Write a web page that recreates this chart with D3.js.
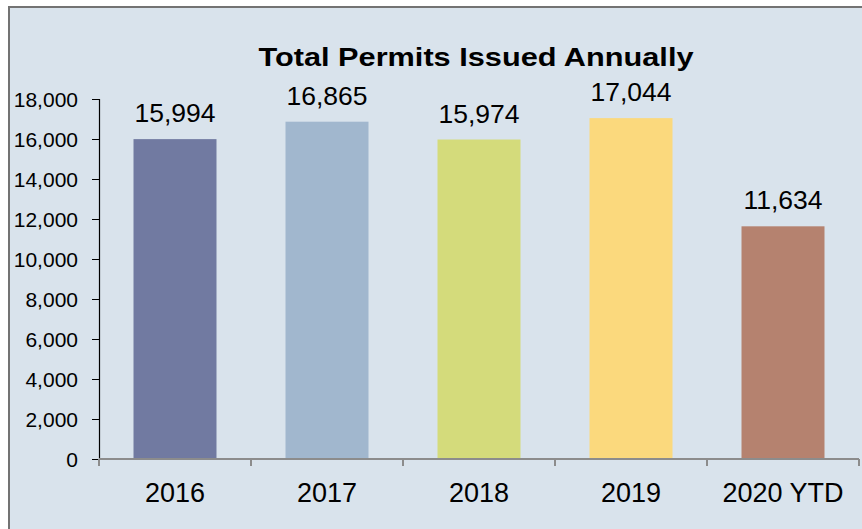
<!DOCTYPE html>
<html lang="en">
  <head>
    <meta charset="utf-8">
    <title>Total Permits Issued Annually</title>
    <script src="https://cdn.jsdelivr.net/npm/d3@7"></script>
  </head>
  <style>
    body { margin: 0; background: #ffffff; }
    .y-axis text { font-family: 'Liberation Sans', Arial, sans-serif; font-size: 21px; fill: #000; }
    .x-axis text { font-family: 'Liberation Sans', Arial, sans-serif; font-size: 27px; fill: #000; }
  </style>
  <body>
    <div id="svg-area"></div>
    <script>
      const svg_width = 862;
      const svg_height = 529;

      const categories = ['2016', '2017', '2018', '2019', '2020 YTD'];
      const permits = [15994, 16865, 15974, 17044, 11634];
      const bar_colors = ['#717aa1', '#a1b7ce', '#d4db7b', '#fbd97d', '#b5826f'];
      const y_ticks = [0, 2000, 4000, 6000, 8000, 10000, 12000, 14000, 16000, 18000];

      const plot = {left: 99, right: 859, top: 99, bottom: 459};

      const svg = d3.select('#svg-area')
        .append('svg')
        .attr('width', svg_width)
        .attr('height', svg_height);

      //chart area background + frame
      svg.append('rect')
        .attr('x', 9)
        .attr('y', 7)
        .attr('width', svg_width + 10)
        .attr('height', svg_height + 10)
        .attr('fill', '#d9e3ec')
        .attr('stroke', '#737373')
        .attr('stroke-width', 2);

      //scales
      const x_scale = d3.scaleBand()
        .domain(categories)
        .range([plot.left, plot.right])
        .paddingInner(0.454)
        .paddingOuter(0.227);

      const x_ticks_scale = d3.scaleBand()
        .domain(categories)
        .range([plot.left, plot.right]);

      const y_scale = d3.scaleLinear()
        .domain([0, 18000])
        .range([plot.bottom, plot.top]);

      //title
      svg.append('text')
        .attr('x', 476)
        .attr('y', 66)
        .attr('text-anchor', 'middle')
        .attr('font-family', "'Liberation Sans', Arial, sans-serif")
        .attr('font-weight', 'bold')
        .attr('font-size', 26)
        .attr('textLength', 435)
        .attr('lengthAdjust', 'spacingAndGlyphs')
        .text('Total Permits Issued Annually');

      //bars
      svg.selectAll('rect.bar')
        .data(permits)
        .enter()
        .append('rect')
        .attr('class', 'bar')
        .attr('x', (d, i) => x_scale(categories[i]))
        .attr('y', (d) => y_scale(d))
        .attr('width', x_scale.bandwidth())
        .attr('height', (d) => y_scale(0) - y_scale(d))
        .attr('fill', (d, i) => bar_colors[i]);

      //value labels
      svg.selectAll('text.value')
        .data(permits)
        .enter()
        .append('text')
        .attr('class', 'value')
        .attr('x', (d, i) => x_scale(categories[i]) + x_scale.bandwidth() / 2)
        .attr('y', (d) => y_scale(d) - 17)
        .attr('text-anchor', 'middle')
        .attr('font-family', "'Liberation Sans', Arial, sans-serif")
        .attr('font-size', 26.5)
        .text((d) => d3.format(',')(d));

      //y axis
      const y_axis = d3.axisLeft(y_scale)
        .tickValues(y_ticks)
        .tickFormat(d3.format(','))
        .tickSizeOuter(0)
        .tickSize(7)
        .tickPadding(14);

      const y_g = svg.append('g')
        .attr('class', 'y-axis')
        .attr('transform', `translate(${plot.left},0)`)
        .call(y_axis);
      y_g.select('.domain').attr('stroke', '#000').attr('stroke-width', 1.2);
      y_g.selectAll('.tick line').attr('stroke', '#000');
      y_g.selectAll('.tick text').attr('dy', '0.35em');

      //x axis: ticks between categories
      const x_g = svg.append('g')
        .attr('class', 'x-axis')
        .attr('transform', `translate(0,${plot.bottom})`);

      x_g.append('line')
        .attr('x1', plot.left)
        .attr('x2', plot.right)
        .attr('stroke', '#8c8c8c')
        .attr('stroke-width', 2);

      const boundaries = categories.map((c) => x_ticks_scale(c)).concat([plot.right]);
      x_g.selectAll('line.tick')
        .data(boundaries)
        .enter()
        .append('line')
        .attr('class', 'tick')
        .attr('x1', (d) => d)
        .attr('x2', (d) => d)
        .attr('y1', 0)
        .attr('y2', 7)
        .attr('stroke', '#8c8c8c')
        .attr('stroke-width', 2);

      x_g.selectAll('text')
        .data(categories)
        .enter()
        .append('text')
        .attr('x', (d) => x_ticks_scale(d) + x_ticks_scale.bandwidth() / 2)
        .attr('y', 43)
        .attr('text-anchor', 'middle')
        .text((d) => d);
    </script>
  </body>
</html>
